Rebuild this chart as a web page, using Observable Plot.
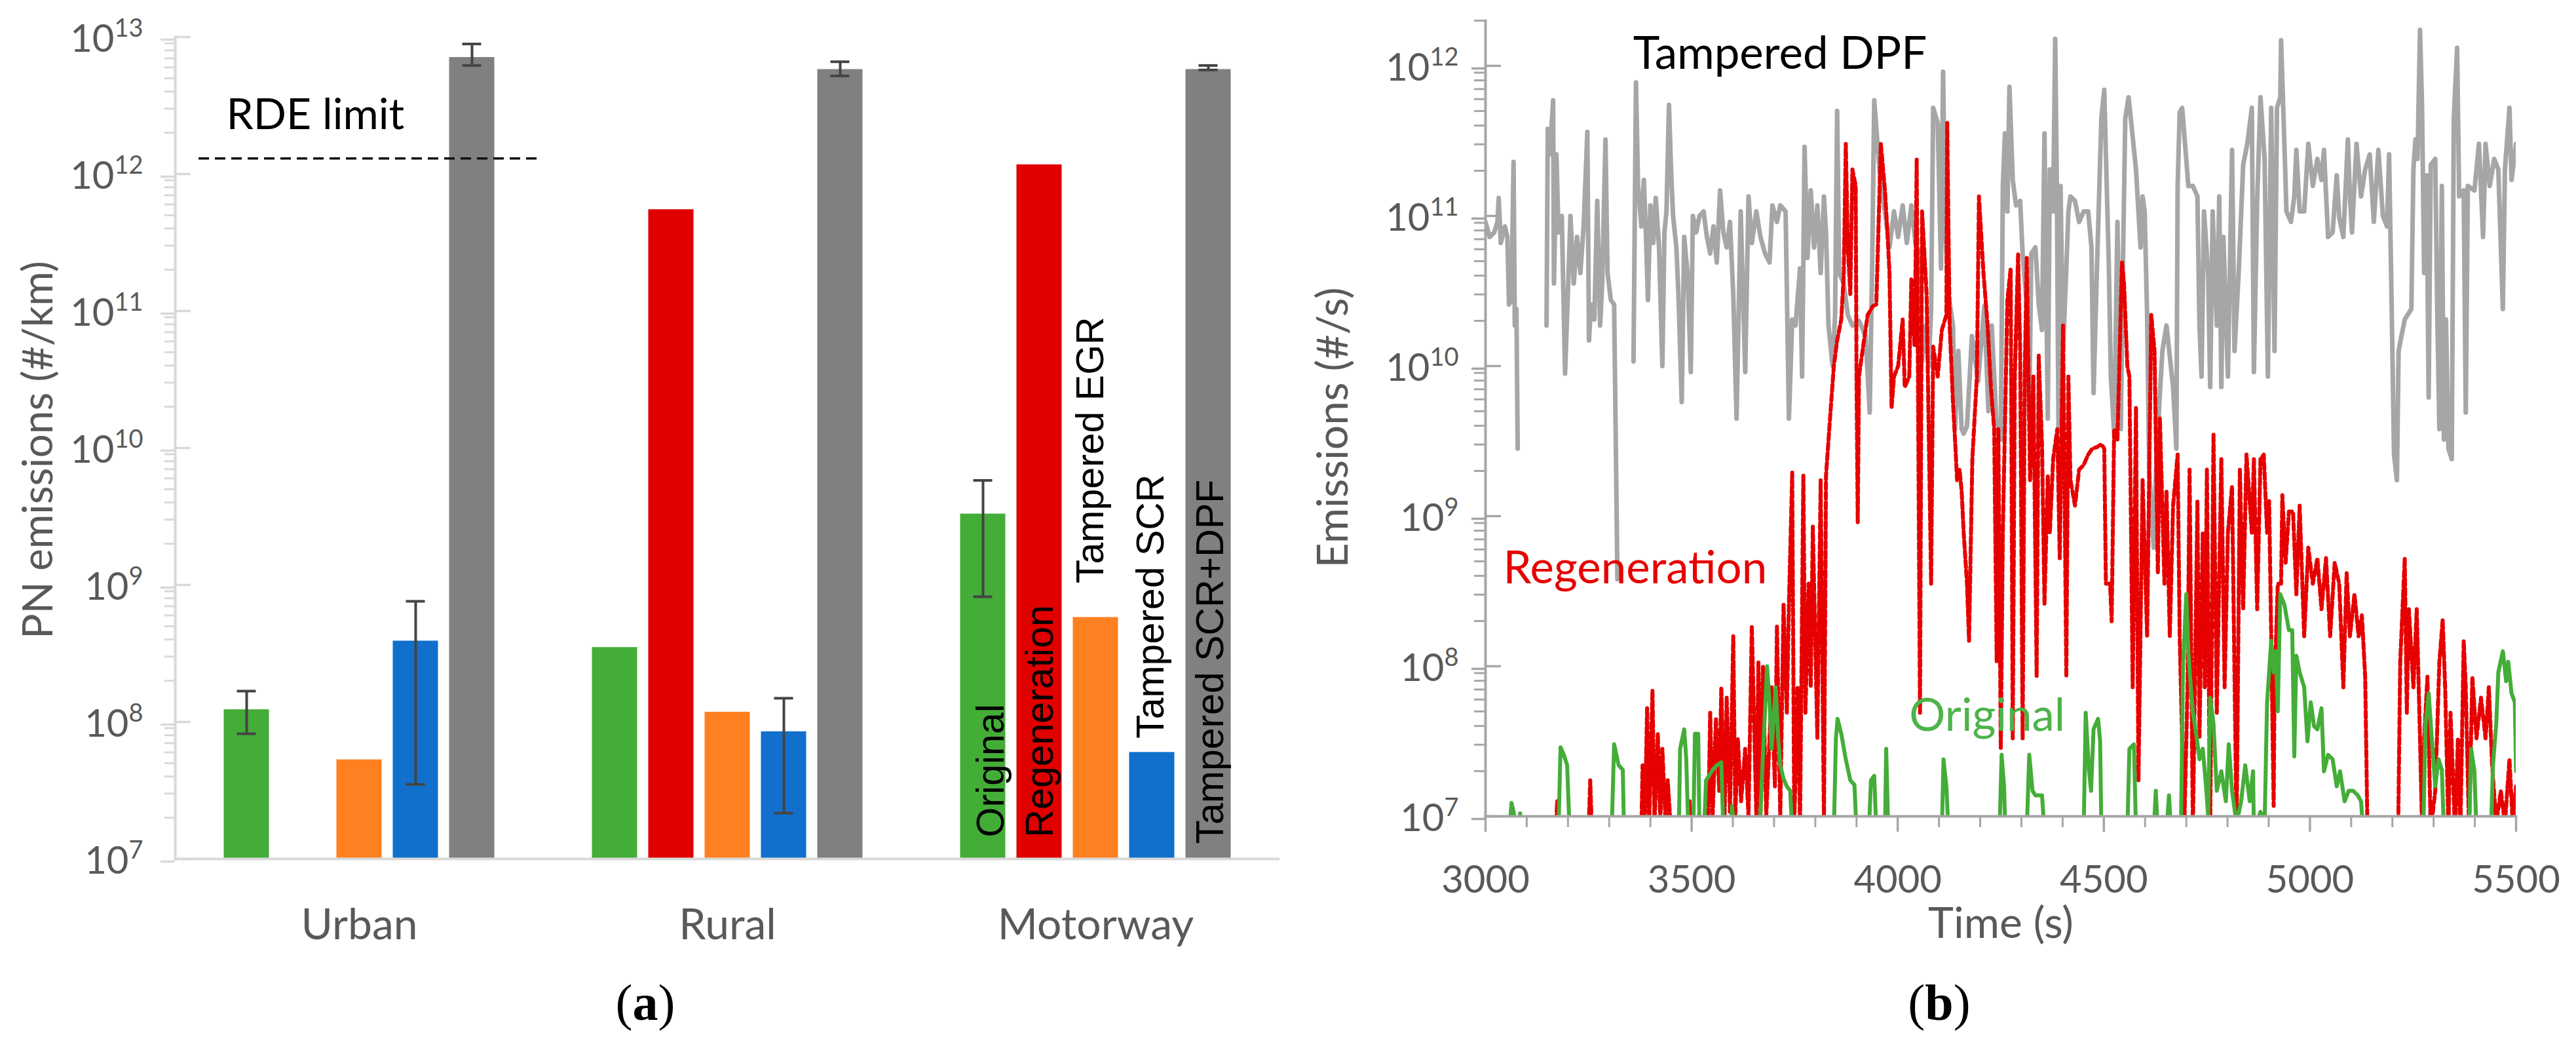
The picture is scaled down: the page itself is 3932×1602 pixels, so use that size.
<!DOCTYPE html>
<html><head><meta charset="utf-8">
<script src="https://cdn.jsdelivr.net/npm/d3@7"></script>
<script src="https://cdn.jsdelivr.net/npm/@observablehq/plot@0.6"></script>
<style>
html,body{margin:0;padding:0;background:#fff;}
#fig{position:relative;width:3932px;height:1602px;overflow:hidden;background:#fff;}
#pa,#pb{position:absolute;top:0;}
#pa{left:0;} #pb{left:1960px;}
.cap{position:absolute;top:1491px;font-family:"Liberation Serif",serif;font-size:78px;line-height:78px;transform:translateX(-50%);color:#000;white-space:nowrap;}
</style></head><body>
<div id="fig"><div id="pa"></div><div id="pb"></div>
<div class="cap" style="left:985px">(<b>a</b>)</div>
<div class="cap" style="left:2960px">(<b>b</b>)</div></div>
<script>
// ---------------- Panel (a) data ----------------
const categories = ["Urban", "Rural", "Motorway"];
const seriesNames = ["Original", "Regeneration", "Tampered EGR", "Tampered SCR", "Tampered SCR+DPF"];
const seriesColors = ["#44ad38", "#e00000", "#ff8020", "#1170cc", "#808080"];
const original = [1.23e8, 3.5e8, 3.3e9];
const originalErr = [[8.2e7, 1.68e8], null, [8.2e8, 5.8e9]];
const regeneration = [null, 5.5e11, 1.17e12];
const regenerationErr = [null, null, null];
const tamperedEGR = [5.3e7, 1.18e8, 5.8e8];
const tamperedEGRErr = [null, null, null];
const tamperedSCR = [3.9e8, 8.5e7, 6.0e7];
const tamperedSCRErr = [[3.5e7, 7.6e8], [2.16e7, 1.49e8], null];
const tamperedSCRDPF = [7.1e12, 5.8e12, 5.8e12];
const tamperedSCRDPFErr = [[6.2e12, 8.9e12], [5.2e12, 6.6e12], [5.75e12, 6.2e12]];
const rdeLimit = 1.3e12;
const yTicksA = [1e7, 1e8, 1e9, 1e10, 1e11, 1e12, 1e13];

// ---------------- Panel (b) data: [time (s), log10(emissions #/s)] ----------------
const tamperedDPF = [[3000,10.96],[3010,10.86],[3021,10.89],[3029,10.96],[3032,11.12],[3037,10.82],[3047,10.93],[3053,10.86],[3057,10.41],[3063,10.44],[3068,11.36],[3071,10.27],[3075,10.38],[3078,9.45],[3080,null],
[3148,10.27],[3151,11.58],[3156,11.41],[3164,11.77],[3166,10.55],[3172,11.41],[3177,10.89],[3185,11.00],[3193,9.95],[3201,10.58],[3206,11.00],[3214,10.55],[3222,10.86],[3230,10.62],[3238,10.93],[3247,11.56],[3251,10.17],[3256,10.41],[3264,10.31],[3271,11.10],[3278,10.27],[3283,10.55],[3291,11.51],[3296,10.62],[3304,10.44],[3312,10.41],[3320,8.58],[3325,null],
[3359,10.03],[3365,11.89],[3370,11.20],[3378,10.93],[3384,11.24],[3389,10.89],[3394,10.44],[3400,11.07],[3407,10.82],[3413,11.12],[3421,10.79],[3429,10.00],[3434,10.89],[3439,11.03],[3445,11.74],[3450,11.31],[3455,11.00],[3463,10.79],[3468,10.48],[3476,9.76],[3482,10.86],[3490,10.62],[3498,9.96],[3503,11.00],[3511,10.89],[3519,11.00],[3529,11.03],[3537,10.86],[3545,10.75],[3553,10.93],[3561,10.69],[3569,11.17],[3577,10.89],[3585,10.79],[3593,10.96],[3601,10.48],[3609,9.65],[3619,11.03],
[3630,9.96],[3638,11.13],[3646,10.82],[3657,11.03],[3667,10.86],[3678,10.75],[3689,10.69],[3696,11.07],[3707,10.96],[3715,11.07],[3728,11.03],[3736,9.65],[3744,10.31],[3752,10.27],[3763,10.65],[3768,9.93],[3774,11.46],[3781,10.72],[3789,11.17],[3797,10.79],[3805,11.07],[3813,10.62],[3821,11.13],[3826,10.89],[3832,10.27],[3842,10.00],[3848,10.34],[3853,11.70],[3858,10.62],[3869,10.55],[3879,10.34],[3890,10.27],[3906,10.30],[3922,10.20],[3932,9.69],[3938,10.69],[3943,11.77],[3951,11.48],[3959,11.20],[3969,11.03],[3980,10.79],[3991,11.03],[4001,10.86],[4012,11.07],[4022,10.82],[4033,11.07],[4043,10.82],[4051,10.75],[4059,10.03],[4067,10.27],[4075,10.00],[4081,10.38],[4086,11.72],[4097,11.62],[4105,10.65],[4110,11.96],[4115,10.96],[4123,10.48],[4134,10.27],[4139,9.58],[4147,10.10],[4155,9.58],[4160,9.55],[4168,9.60],[4180,10.20],[4195,9.90],[4210,10.40],[4220,9.70],
[4228,10.27],[4239,9.65],[4250,9.51],[4255,11.20],[4260,11.55],[4266,11.03],[4271,11.86],[4279,11.24],[4287,11.07],[4297,11.10],[4303,10.75],[4313,10.41],[4319,9.65],[4324,10.75],[4334,10.79],[4342,10.41],[4350,10.24],[4356,11.55],[4364,9.65],[4369,11.31],[4377,11.03],[4382,12.18],[4386,11.20],[4390,9.58],[4395,11.20],[4401,10.10],[4409,10.65],[4414,11.03],[4419,11.13],[4430,11.10],[4440,10.96],[4451,11.03],[4462,11.03],[4470,10.79],[4475,9.82],[4483,10.62],[4494,11.65],[4501,11.84],[4507,11.20],[4512,10.69],[4517,9.93],[4525,9.55],[4533,10.96],[4541,9.58],[4546,10.62],[4552,11.65],[4560,11.79],[4568,11.58],[4578,11.31],[4589,10.79],[4594,11.13],[4599,11.03],[4605,10.34],[4610,9.31],[4621,8.79],[4626,9.24],[4634,9.72],[4642,10.10],[4652,10.27],[4668,9.86],[4676,9.45],[4679,11.20],[4684,11.69],[4690,11.72],[4697,11.48],[4705,11.20],[4716,11.20],[4727,11.13],[4732,10.27],[4737,9.93],[4743,11.03],[4753,10.62],[4758,9.86],[4764,11.03],[4774,10.27],[4780,11.13],[4785,9.86],[4790,10.86],[4801,9.93],[4811,11.44],[4817,10.10],[4827,10.62],[4838,11.34],[4848,11.48],[4859,11.72],
[4864,9.96],[4872,11.10],[4880,11.79],[4890,11.38],[4898,9.93],[4906,11.72],[4914,10.10],[4920,11.72],[4928,11.79],[4930,12.17],[4938,11.48],[4943,11.03],[4954,10.96],[4962,11.13],[4967,11.44],[4975,11.03],[4986,11.03],[4996,11.48],[5007,11.20],[5018,11.38],[5028,11.24],[5034,11.44],[5044,10.86],[5055,10.89],[5065,11.27],[5071,10.99],[5081,10.86],[5092,11.51],[5097,11.13],[5102,10.89],[5113,11.48],[5124,11.13],[5134,11.31],[5145,11.41],[5155,10.96],[5166,11.44],[5177,11.00],[5187,10.93],[5192,11.41],[5198,10.44],[5204,9.41],[5211,9.24],[5215,10.10],[5222,10.20],[5230,10.31],[5246,10.38],[5251,11.31],[5256,11.51],[5261,11.38],[5267,12.24],[5272,11.72],[5277,10.62],[5283,11.27],[5288,9.79],[5293,11.34],[5304,11.38],[5309,10.34],[5314,9.58],[5320,11.20],[5325,9.51],[5330,10.31],[5336,9.45],[5344,9.38],[5349,11.65],[5357,12.12],[5362,11.13],[5373,11.17],[5378,9.69],[5383,11.20],[5399,11.17],[5410,11.48],[5420,10.86],[5426,11.48],[5436,11.20],[5447,11.38],[5457,11.31],[5468,10.38],[5473,11.31],[5484,11.72],[5489,11.24],[5500,11.48]];

const regenerationTrace = [[3170,6.9],[3174,7.10],[3176,6.9],[3250,6.9],[3254,7.24],[3258,6.9],
[3378,6.9],[3381,7.34],[3386,6.9],[3392,7.72],[3397,6.95],[3405,7.84],[3410,6.95],[3418,7.55],[3424,6.95],[3429,7.45],[3437,6.95],[3442,7.24],[3450,6.9],
[3492,6.9],[3495,7.10],[3498,6.9],
[3540,6.9],[3545,7.69],[3551,7.0],[3559,7.65],[3567,7.17],[3572,7.86],[3580,7.0],[3585,7.79],[3593,7.03],[3601,8.20],[3606,7.0],[3612,7.52],[3620,7.10],[3630,7.45],[3638,7.0],[3646,8.27],[3657,7.0],[3662,8.03],[3667,7.0],[3673,8.00],[3681,7.0],[3689,7.52],[3694,7.86],[3702,7.2],[3707,8.27],[3715,7.0],[3723,8.41],[3731,7.69],[3736,8.41],[3744,9.29],[3749,6.95],[3757,7.86],[3763,6.95],[3771,9.27],[3776,7.69],[3784,8.55],[3789,7.86],[3794,8.93],[3805,7.52],[3813,9.24],[3821,6.95],[3826,9.27],[3837,9.70],[3845,10.00],[3853,10.17],[3863,10.31],[3869,10.60],[3874,11.48],[3879,10.79],[3885,10.48],[3890,11.31],[3898,11.20],[3900,9.93],[3903,8.96],[3906,9.93],[3916,10.13],[3927,10.34],[3940,10.40],[3948,10.41],[3959,11.48],[3969,11.17],[3975,10.89],[3980,10.62],[3985,9.72],[3991,9.93],[4001,10.00],[4012,10.31],[4017,9.86],[4028,9.93],[4033,10.58],[4041,10.13],[4046,11.38],[4050,9.50],[4054,7.69],[4059,11.03],[4070,10.48],[4081,8.55],[4086,10.13],[4097,9.93],[4107,10.24],[4118,10.34],[4120,11.62],[4126,10.27],[4134,9.76],[4139,9.51],[4144,9.24],[4150,9.31],[4155,9.17],[4160,8.89],[4168,8.55],[4173,8.17],[4181,9.38],[4192,9.93],[4197,11.13],[4208,10.62],[4218,10.27],[4226,9.86],[4234,9.58],[4240,8.03],[4244,9.58],[4250,7.45],[4255,8.89],[4266,10.44],[4274,10.65],[4279,7.52],[4284,9.93],[4292,10.75],[4297,10.10],[4303,7.52],[4308,9.93],[4313,10.72],[4321,9.24],[4329,9.93],[4337,7.93],[4342,10.07],[4350,9.48],[4356,8.41],[4364,9.27],[4369,8.89],[4377,9.38],[4387,9.58],[4393,8.72],[4401,10.27],[4409,7.93],[4414,9.93],[4419,9.24],[4430,9.07],[4440,9.31],[4451,9.34],[4462,9.41],[4472,9.45],[4483,9.46],[4494,9.48],[4501,9.45],[4505,8.55],[4515,8.55],[4519,8.30],[4525,9.58],[4533,9.51],[4544,10.69],[4549,10.55],[4557,10.00],[4562,9.93],[4570,7.86],[4578,9.72],[4584,7.24],[4594,9.24],[4605,8.20],[4615,10.34],[4623,10.10],[4631,8.62],[4636,9.65],[4647,8.55],[4652,9.17],[4660,8.20],[4668,9.07],[4679,9.41],[4684,8.20],[4695,6.9],[4703,7.86],[4708,9.31],[4716,6.9],[4727,9.10],[4732,7.52],[4740,8.89],[4745,7.86],[4750,9.31],[4758,6.9],[4766,9.55],[4774,7.69],[4785,9.38],[4793,7.86],[4801,8.89],[4811,9.20],[4822,6.9],[4830,9.31],[4838,8.38],[4846,9.41],[4859,8.89],[4864,9.38],[4872,8.38],[4880,9.38],[4888,9.41],[4896,8.89],[4901,9.10],[4906,8.20],[4912,7.07],[4914,7.86],[4922,8.55],[4930,8.55],[4933,9.14],[4941,8.69],[4949,9.03],[4959,9.03],[4967,8.48],[4975,9.07],[4986,8.20],[4996,8.79],[5007,8.55],[5018,8.72],[5028,8.38],[5039,8.72],[5049,8.20],[5060,8.69],[5071,8.55],[5081,7.86],[5089,8.62],[5097,8.20],[5108,8.48],[5118,8.20],[5126,8.34],[5134,7.93],[5139,7.0],[5145,6.9],
[5214,6.9],[5219,8.03],[5230,8.72],[5235,7.69],[5240,8.38],[5251,7.86],[5259,8.38],[5267,7.52],[5272,6.9],[5277,7.52],[5285,7.93],[5293,6.9],[5304,7.17],[5314,8.03],[5322,8.31],[5328,7.86],[5336,6.9],[5341,7.69],[5352,6.9],[5359,7.52],[5365,6.9],[5373,8.17],[5378,7.86],[5386,6.9],[5394,7.93],[5404,7.52],[5415,7.79],[5426,7.52],[5434,7.86],[5442,7.34],[5452,6.95],[5463,7.17],[5473,6.95],[5484,7.38],[5492,6.95],[5500,7.2]];

const originalTrace = [[3058,6.9],[3063,7.09],[3068,7.03],[3074,6.9],[3082,6.9],[3084,7.02],[3087,6.9],[3177,6.9],[3182,7.46],[3190,7.41],[3198,7.34],[3204,6.9],[3306,6.9],[3312,7.48],[3323,7.34],[3333,7.31],[3336,6.9],[3469,6.9],[3472,7.45],[3482,7.58],[3487,7.38],[3492,6.9],[3504,6.9],[3508,7.55],[3516,7.55],[3519,6.9],[3530,6.9],[3535,7.24],[3551,7.31],[3561,7.34],[3572,7.36],[3577,6.9],[3596,6.9],[3598,7.07],[3604,6.9],[3665,6.9],[3673,7.41],[3683,8.00],[3689,7.76],[3694,7.45],[3704,7.86],[3710,7.52],[3715,7.34],[3723,7.25],[3731,7.20],[3739,7.17],[3744,6.9],[3845,6.9],[3850,7.52],[3854,7.65],[3863,7.55],[3874,7.38],[3885,7.24],[3895,7.21],[3900,6.9],[3930,6.9],[3935,7.24],[3943,7.27],[3948,6.9],[3969,6.9],[3972,7.45],[3977,6.9],[4107,6.9],[4111,7.38],[4118,7.2],[4123,6.9],[4247,6.9],[4252,7.41],[4258,7.2],[4261,6.9],[4313,6.9],[4319,7.41],[4327,7.17],[4334,7.14],[4350,7.14],[4356,6.9],[4451,6.9],[4456,7.69],[4464,7.3],[4469,7.17],[4475,7.58],[4486,7.65],[4491,7.5],[4494,6.9],[4557,6.9],[4562,7.45],[4573,7.48],[4578,6.9],[4621,6.9],[4626,7.17],[4631,6.9],[4652,6.9],[4658,7.14],[4663,6.9],[4687,6.9],[4692,8.00],[4700,8.48],[4705,8.10],[4711,7.86],[4716,7.69],[4724,7.55],[4732,7.38],[4740,7.45],[4748,7.2],[4753,7.0],[4758,7.79],[4766,7.62],[4774,7.17],[4785,7.3],[4796,7.1],[4803,7.48],[4811,7.17],[4822,6.95],[4833,7.1],[4843,7.34],[4854,7.1],[4862,7.3],[4864,6.9],[4880,7.03],[4890,6.95],[4896,7.76],[4906,8.17],[4912,7.96],[4917,8.10],[4922,7.7],[4928,8.48],[4938,8.41],[4949,8.24],[4957,8.24],[4962,7.4],[4967,8.07],[4975,7.96],[4986,7.86],[4994,7.5],[5002,7.76],[5010,7.6],[5018,7.58],[5028,7.72],[5034,7.3],[5044,7.41],[5055,7.38],[5065,7.2],[5073,7.3],[5084,7.1],[5094,7.17],[5105,7.17],[5116,7.14],[5124,7.1],[5129,6.9],[5275,6.9],[5280,7.6],[5288,7.82],[5296,7.5],[5304,7.2],[5312,7.38],[5320,7.31],[5325,6.9],[5386,6.9],[5391,7.45],[5399,7.3],[5404,6.9],[5439,6.9],[5444,7.34],[5452,7.62],[5457,7.96],[5468,8.10],[5476,7.9],[5481,8.03],[5489,7.82],[5497,7.76],[5500,7.3]];

const xTicksB = [3000, 3500, 4000, 4500, 5000, 5500];
const yTicksB = [1e7, 1e8, 1e9, 1e10, 1e11, 1e12];
const annotationsB = [
  {text: "Tampered DPF", t: 3358, v: 1.19e12, color: "#000000"},
  {text: "Regeneration", t: 3043, v: 4.46e8, color: "#e60000"},
  {text: "Original", t: 4028, v: 4.65e7, color: "#4db34a"}
];

// ---------------- helpers ----------------
const FONT = "Lato";
const AXIS_TEXT = "#595959";
function minorLogTicks(k0, k1, maxV) {
  const out = [];
  for (let k = k0; k <= k1; k++) for (let m = 2; m <= 9; m++) { const v = m * 10 ** k; if (v <= maxV * 1.0001) out.push(v); }
  return out;
}
const powFmt = d => "10^" + Math.round(Math.log10(d));
function superscriptify(svg, supSize, rise) {
  d3.select(svg).selectAll("text").each(function() {
    const s = this.textContent;
    if (!/^10\^\d+$/.test(s)) return;
    const [b, e] = s.split("^");
    const t = d3.select(this);
    t.text(null);
    t.append("tspan").text(b);
    t.append("tspan").attr("font-size", supSize).attr("dy", -rise).text(e);
  });
}

// ---------------- Panel (a) ----------------
const valuesA = [original, regeneration, tamperedEGR, tamperedSCR, tamperedSCRDPF];
const errorsA = [originalErr, regenerationErr, tamperedEGRErr, tamperedSCRErr, tamperedSCRDPFErr];
const tableA = [];
seriesNames.forEach((s, i) => categories.forEach((c, j) => {
  const e = errorsA[i][j];
  tableA.push({series: s, si: i, cat: c, value: valuesA[i][j], lo: e ? e[0] : null, hi: e ? e[1] : null});
}));

const SLOT = 86, BARW = 69, BANDW = 562, CAPW = 29;
const barInset = (BANDW - BARW) / 2, capInset = (BANDW - CAPW) / 2;
const labelInside = [true, true, false, false, true];
const labelShift = [13, 2, -7, -1, 4];
const labelGap = [-33, -33, -52, -21, -23];

const marksA = [];
seriesNames.forEach((s, i) => {
  const dx = (i - 2) * SLOT;
  const rows = tableA.filter(d => d.series === s && d.value != null);
  marksA.push(Plot.barY(rows, {x: "cat", y1: () => 1e7, y2: "value", fill: seriesColors[i], dx, insetLeft: barInset, insetRight: barInset}));
});
seriesNames.forEach((s, i) => {
  const dx = (i - 2) * SLOT;
  const er = tableA.filter(d => d.series === s && d.lo != null);
  marksA.push(Plot.ruleX(er, {x: "cat", y1: "lo", y2: "hi", dx, stroke: "#444444", strokeWidth: 4}));
  marksA.push(Plot.tickY(er, {x: "cat", y: "lo", dx, stroke: "#444444", strokeWidth: 4, insetLeft: capInset, insetRight: capInset}));
  marksA.push(Plot.tickY(er, {x: "cat", y: "hi", dx, stroke: "#444444", strokeWidth: 4, insetLeft: capInset, insetRight: capInset}));
});
seriesNames.forEach((s, i) => {
  const row = tableA.filter(d => d.series === s && d.cat === "Motorway");
  marksA.push(Plot.text(row, {x: "cat", y: d => labelInside[i] ? 1e7 : d.value, text: "series", rotate: -90,
    textAnchor: "start", lineAnchor: "middle", dx: (i - 2) * SLOT + labelShift[i], dy: labelGap[i],
    fontSize: 59, fontFamily: "Liberation Sans", fill: "#000"}));
});

const plotA = Plot.plot({
  width: 1960, height: 1602,
  marginLeft: 267, marginRight: 7, marginTop: 56, marginBottom: 292,
  style: {fontFamily: FONT, background: "transparent", overflow: "visible"},
  x: {type: "band", domain: categories, padding: 0, axis: null},
  y: {type: "log", domain: [1e7, 1e13], axis: null},
  marks: [
    ...marksA,
    Plot.ruleY([rdeLimit], {stroke: "#111", strokeWidth: 3.5, strokeDasharray: "16,9", insetLeft: 36, insetRight: 1129}),
    Plot.text(["RDE limit"], {x: () => "Urban", y: () => rdeLimit, text: d => d, textAnchor: "start", lineAnchor: "middle", dx: -203, dy: -66, fontSize: 66, fontFamily: FONT, fill: "#000"}),
    Plot.ruleY([1e7], {stroke: "#d9d9d9", strokeWidth: 4}),
    Plot.frame({anchor: "left", stroke: "#d9d9d9", strokeWidth: 4}),
    Plot.axisY({ticks: yTicksA, tickSize: 22, tickPadding: 27, tickFormat: powFmt, fontSize: 58, fontFamily: FONT, fill: AXIS_TEXT, stroke: "#d9d9d9", strokeWidth: 3.5, dy: 4, label: null}),
    Plot.axisY({ticks: yTicksA, tickSize: -24, tickFormat: () => "", stroke: "#d9d9d9", strokeWidth: 3.5, label: null}),
    Plot.axisY({ticks: minorLogTicks(7, 12, 1e13), tickSize: 16, tickFormat: () => "", stroke: "#d9d9d9", strokeWidth: 3, label: null}),
    Plot.axisX({tickSize: 0, tickPadding: 76, fontSize: 66, fontFamily: FONT, fill: AXIS_TEXT, label: null}),
    Plot.text(["PN emissions (#/km)"], {frameAnchor: "left", text: d => d, rotate: -90, textAnchor: "middle", lineAnchor: "middle", dx: -208, dy: 3, fontSize: 64, fontFamily: FONT, fill: AXIS_TEXT})
  ]
});
superscriptify(plotA, 38, 23);
document.getElementById("pa").appendChild(plotA);

// ---------------- Panel (b) ----------------
const toRows = arr => arr.map(([t, e]) => ({t, v: e == null ? null : 10 ** e}));
const dpfRows = toRows(tamperedDPF);
const regenRows = toRows(regenerationTrace);
const origRows = toRows(originalTrace);
const xMinorB = [];
for (let t = 3100; t < 5500; t += 100) if (t % 500 !== 0) xMinorB.push(t);

const plotB = Plot.plot({
  width: 1972, height: 1602,
  marginLeft: 307, marginRight: 92, marginTop: 31, marginBottom: 357,
  style: {fontFamily: FONT, background: "transparent", overflow: "visible"},
  x: {type: "linear", domain: [3000, 5500], axis: null},
  y: {type: "log", domain: [1e7, 2e12], axis: null},
  marks: [
    Plot.line(dpfRows, {x: "t", y: "v", stroke: "#a6a6a6", strokeWidth: 7, clip: true}),
    Plot.line(regenRows, {x: "t", y: "v", stroke: "#e60000", strokeWidth: 6, strokeDasharray: "10,5", clip: true}),
    Plot.line(origRows, {x: "t", y: "v", stroke: "#44ad38", strokeWidth: 6, clip: true}),
    Plot.frame({anchor: "left", stroke: "#a6a6a6", strokeWidth: 4}),
    Plot.frame({anchor: "bottom", stroke: "#a6a6a6", strokeWidth: 4}),
    Plot.axisY({ticks: yTicksB, tickSize: 21, tickPadding: 20, tickFormat: powFmt, fontSize: 58, fontFamily: FONT, fill: AXIS_TEXT, stroke: "#a6a6a6", strokeWidth: 3.5, dy: 4, label: null}),
    Plot.axisY({ticks: yTicksB, tickSize: -24, tickFormat: () => "", stroke: "#a6a6a6", strokeWidth: 3.5, label: null}),
    Plot.axisY({ticks: minorLogTicks(7, 12, 2e12), tickSize: 17, tickFormat: () => "", stroke: "#a6a6a6", strokeWidth: 3, label: null}),
    Plot.axisX({ticks: xTicksB, tickSize: 24, tickPadding: 51, tickFormat: d => String(d), fontSize: 58, fontFamily: FONT, fill: AXIS_TEXT, stroke: "#a6a6a6", strokeWidth: 3.5, label: null}),
    Plot.axisX({ticks: xMinorB, tickSize: 17, tickFormat: () => "", stroke: "#a6a6a6", strokeWidth: 3, label: null}),
    Plot.text(annotationsB, {x: "t", y: "v", text: "text", fill: "color", textAnchor: "start", lineAnchor: "middle", fontSize: 69, fontFamily: FONT}),
    Plot.text(["Emissions (#/s)"], {frameAnchor: "left", text: d => d, rotate: -90, textAnchor: "middle", lineAnchor: "middle", dx: -232, dy: 14, fontSize: 66, fontFamily: FONT, fill: AXIS_TEXT}),
    Plot.text(["Time (s)"], {frameAnchor: "bottom", text: d => d, textAnchor: "middle", lineAnchor: "middle", dy: 164, fontSize: 66, fontFamily: FONT, fill: AXIS_TEXT})
  ]
});
superscriptify(plotB, 38, 23);
document.getElementById("pb").appendChild(plotB);
</script>
</body></html>
